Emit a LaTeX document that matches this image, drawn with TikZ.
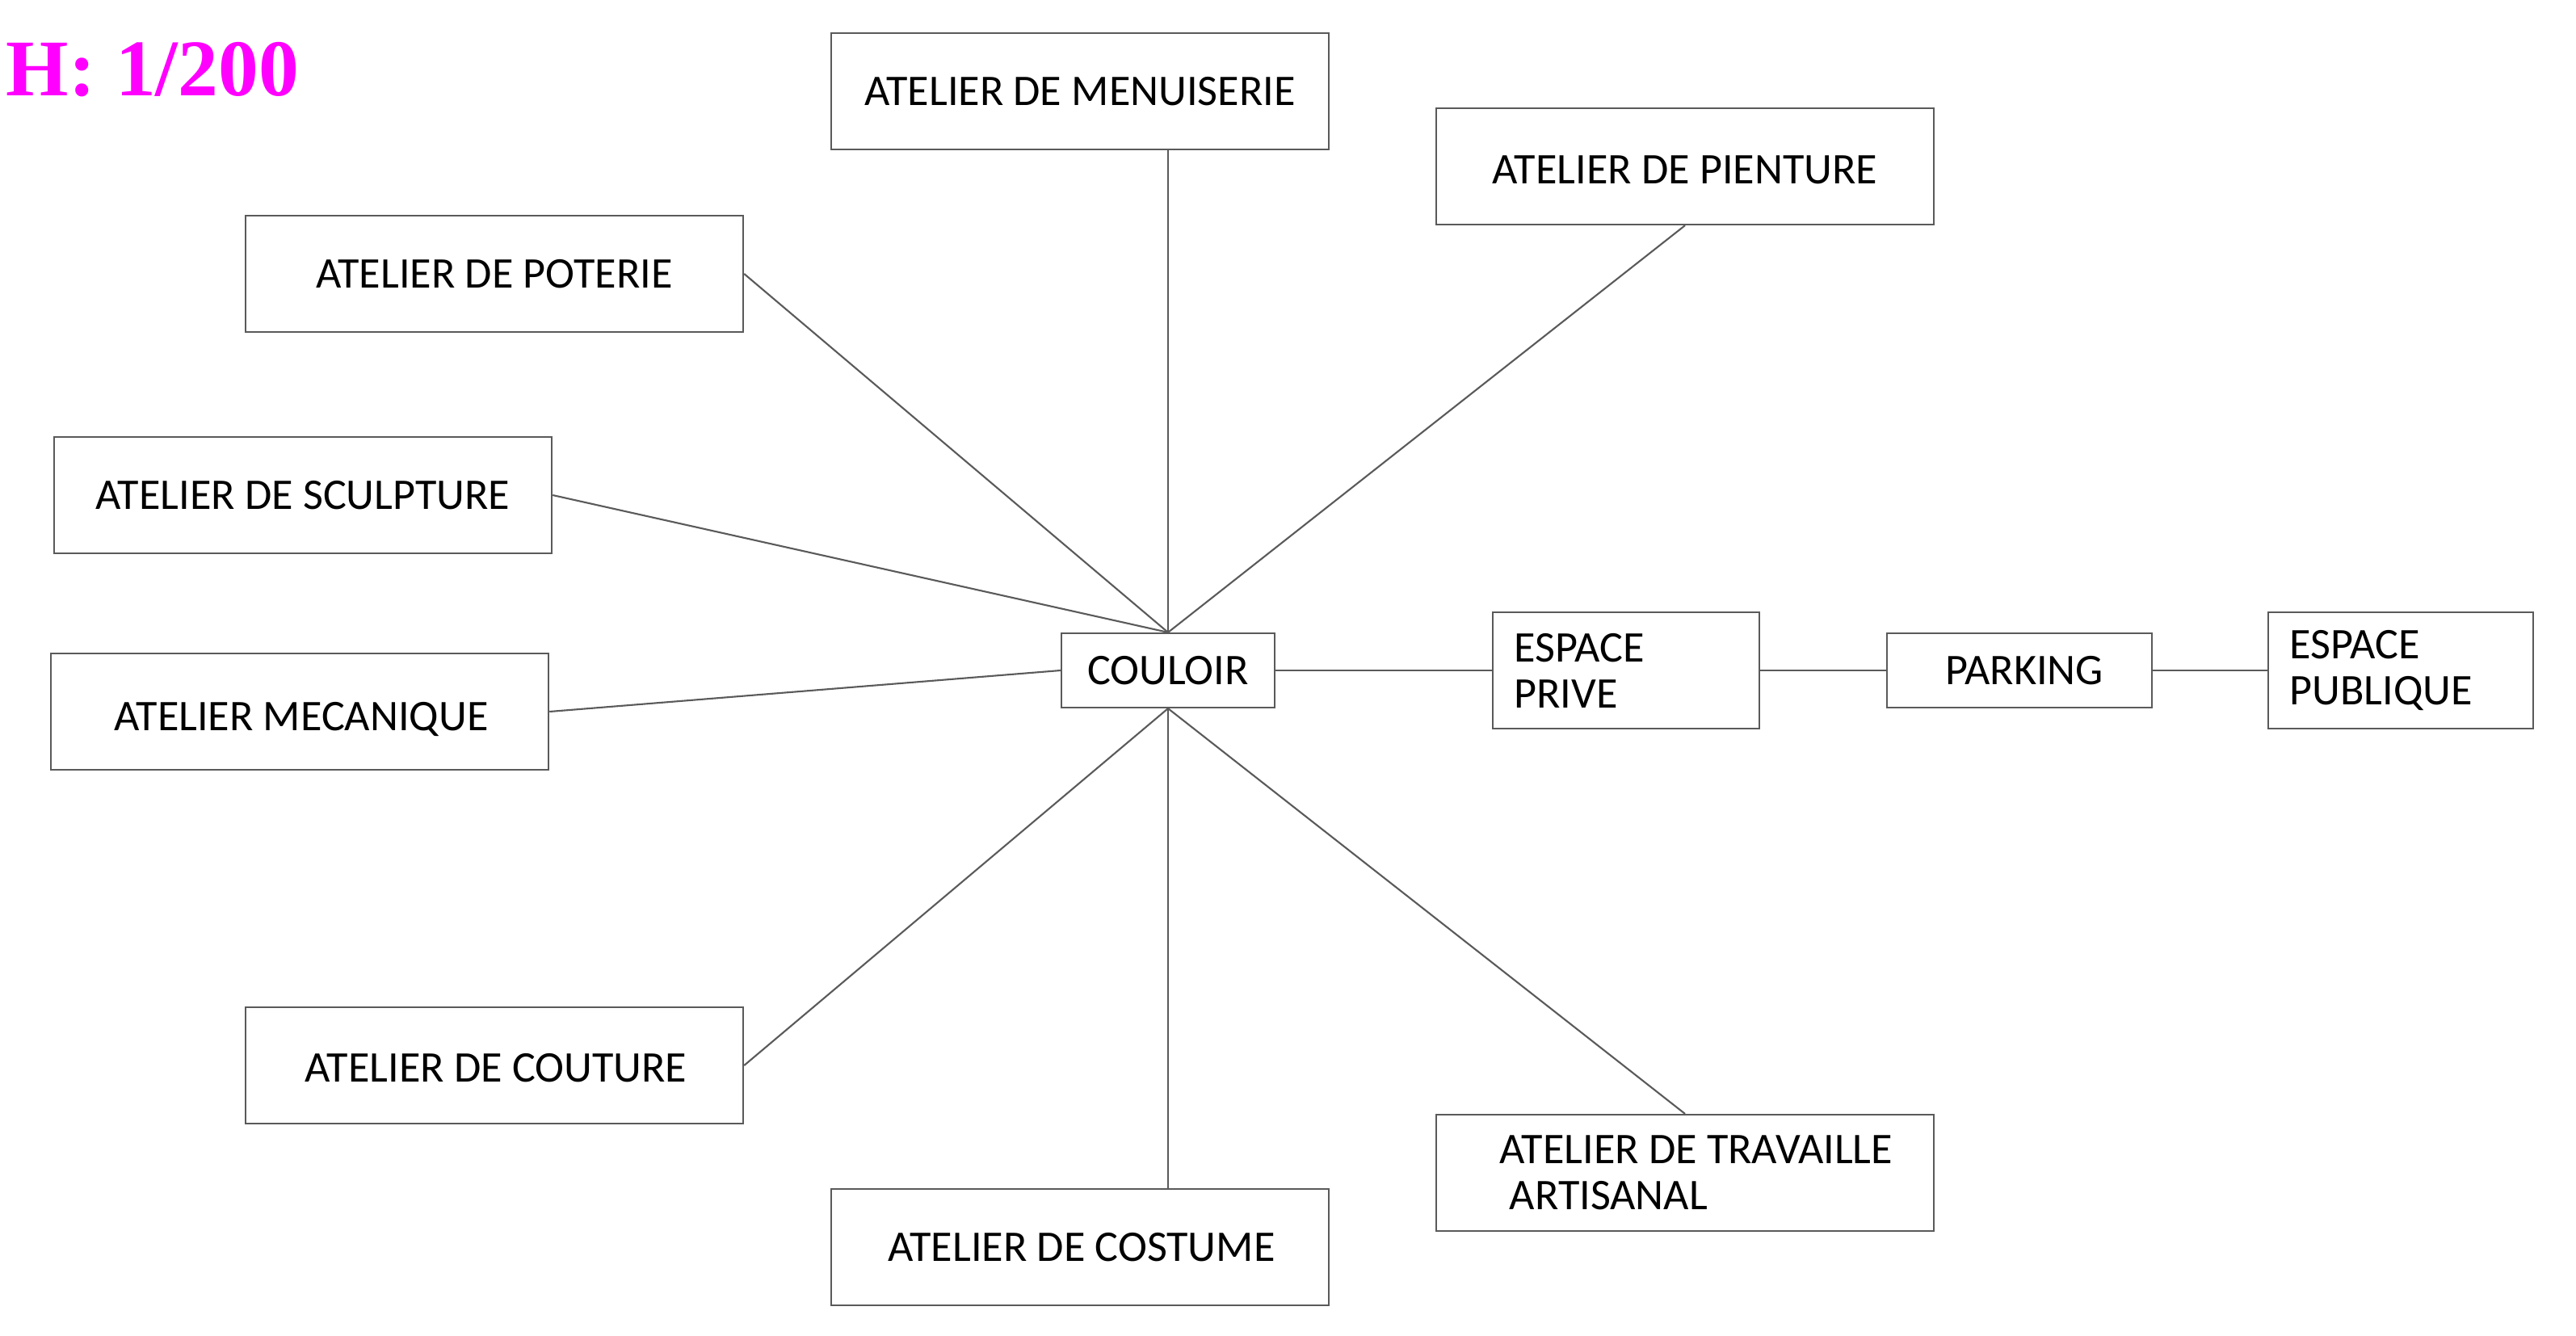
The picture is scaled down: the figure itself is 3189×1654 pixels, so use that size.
\documentclass[tikz,border=0pt]{standalone}
\usepackage{fontspec}
\newfontfamily\boxfont{Carlito}
\newfontfamily\titlefont{Liberation Serif}
\definecolor{linegray}{HTML}{5A5A5A}
\definecolor{titlemag}{HTML}{FF00FF}
\newcommand{\lowerby}[2]{\raisebox{-#1}[\height][\depth]{#2}}
\begin{document}
\begin{tikzpicture}[x=0.01cm,y=-0.01cm,
  box/.style={draw=linegray, line width=0.6pt, fill=white, inner sep=0pt,
    font=\boxfont\fontsize{15.4}{16.2}\selectfont, text=black},
  bigbox/.style={box, minimum width=6.16cm, minimum height=1.44cm},
  leftbox/.style={box, text width=#1, align=left, inner xsep=0.26cm, minimum height=1.44cm},
  conn/.style={draw=linegray, line width=0.6pt}]
\useasboundingbox (0,0) rectangle (3189,1654);
\node[anchor=base west, font=\titlefont\bfseries\fontsize{28.3}{30}\selectfont, text=titlemag, inner sep=0pt] (title) at (7,118) {H: 1/200};

\node[bigbox] (men) at (1337,113) {ATELIER DE MENUISERIE};
\node[bigbox] (pie) at (2086,206) {\lowerby{0.04cm}{ATELIER DE PIENTURE}};
\node[bigbox] (pot) at (612,339) {ATELIER DE POTERIE};
\node[bigbox] (scu) at (375,613) {ATELIER DE SCULPTURE};
\node[bigbox] (mec) at (371,881) {\lowerby{0.09cm}{\hspace{0.04cm}ATELIER MECANIQUE}};
\node[box, minimum width=2.64cm, minimum height=0.92cm] (cou) at (1446,830) {COULOIR};
\node[leftbox=2.77cm] (pri) at (2013,830) {ESPACE\\PRIVE};
\node[box, minimum width=3.27cm, minimum height=0.92cm] (par) at (2500,830) {\hspace{0.12cm}PARKING};
\node[leftbox=2.75cm] (pub) at (2972,830) {ESPACE\\PUBLIQUE};
\node[bigbox] (ctr) at (612,1319) {\lowerby{0.03cm}{\hspace{0.04cm}ATELIER DE COUTURE}};
\node[bigbox] (cst) at (1337,1544) {\hspace{0.04cm}ATELIER DE COSTUME};
\node[bigbox, align=left] (tra) at (2086,1452) {\hspace*{0.28cm}ATELIER DE TRAVAILLE\\\hspace*{0.40cm}ARTISANAL};

\draw[conn] (cou.north) -- (cou.north |- men.south);
\draw[conn] (cou.north) -- (pie.south);
\draw[conn] (cou.north) -- (pot.east);
\draw[conn] (cou.north) -- (scu.east);
\draw[conn] (cou.west) -- (mec.east);
\draw[conn] (cou.south) -- (ctr.east);
\draw[conn] (cou.south) -- (cou.south |- cst.north);
\draw[conn] (cou.south) -- (tra.north);
\draw[conn] (cou.east) -- (pri.west);
\draw[conn] (pri.east) -- (par.west);
\draw[conn] (par.east) -- (pub.west);
\end{tikzpicture}
\end{document}
